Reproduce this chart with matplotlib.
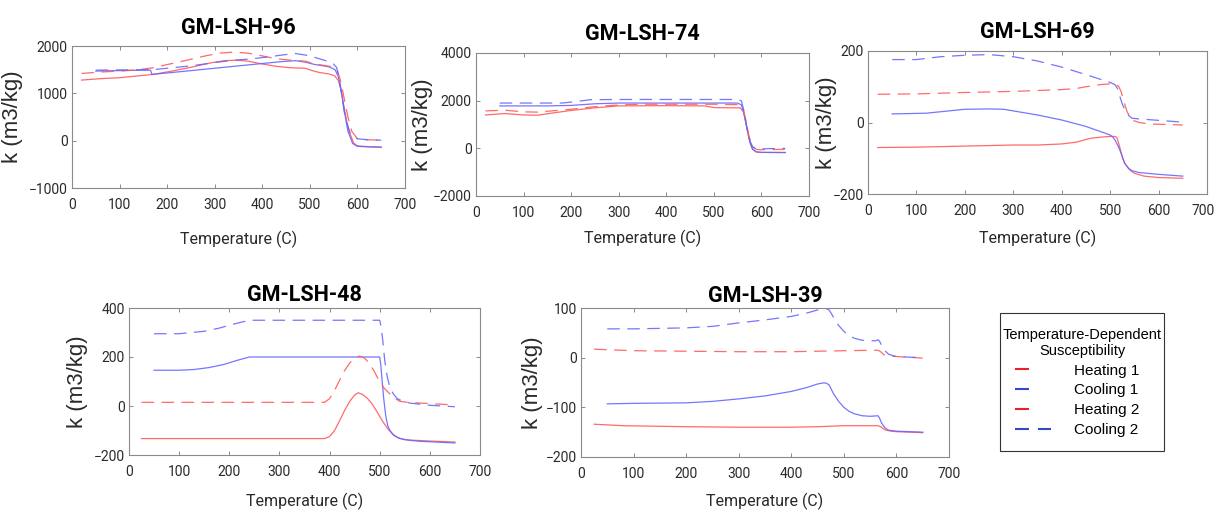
import matplotlib
matplotlib.use("Agg")
import matplotlib.pyplot as plt
from matplotlib.lines import Line2D
from matplotlib.transforms import ScaledTranslation

NARROW = ["Roboto", "DejaVu Sans"]
REGULAR = ["Liberation Sans", "DejaVu Sans"]

RED = "#ff5a5a"
BLUE = "#6666ff"

# GM-LSH-96
T96_H1 = [20, 60, 100, 140, 170, 210, 250, 290, 320, 345, 370, 400, 430, 460, 490, 505, 520, 540, 552, 560, 566, 572, 578, 585, 592, 600, 620, 650]
K96_H1 = [1280, 1310, 1330, 1370, 1400, 1470, 1550, 1640, 1690, 1700, 1680, 1620, 1570, 1540, 1530, 1480, 1440, 1410, 1370, 1270, 1050, 700, 380, 130, -50, -110, -125, -135]
T96_C1 = [50, 100, 165, 168, 200, 250, 300, 350, 400, 440, 470, 490, 510, 540, 553, 560, 566, 572, 580, 590, 600, 620, 650]
K96_C1 = [1470, 1480, 1490, 1400, 1430, 1480, 1530, 1580, 1630, 1670, 1690, 1660, 1610, 1560, 1500, 1350, 1050, 650, 200, -60, -120, -130, -140]
T96_H2 = [20, 60, 100, 140, 170, 210, 250, 280, 310, 340, 370, 400, 430, 460, 490, 510, 530, 548, 558, 565, 572, 580, 588, 600, 620, 650]
K96_H2 = [1420, 1450, 1470, 1500, 1540, 1630, 1720, 1790, 1850, 1870, 1850, 1790, 1730, 1700, 1680, 1620, 1590, 1560, 1480, 1250, 900, 500, 200, 40, 20, 10]
T96_C2 = [50, 100, 165, 170, 210, 250, 300, 340, 380, 420, 450, 470, 490, 510, 530, 548, 556, 562, 568, 575, 585, 600, 620, 650]
K96_C2 = [1490, 1495, 1500, 1500, 1540, 1580, 1650, 1700, 1730, 1780, 1820, 1840, 1810, 1760, 1700, 1640, 1550, 1300, 900, 450, 150, 40, 20, 10]

# GM-LSH-74
T74_H1 = [20, 60, 100, 130, 160, 200, 250, 300, 400, 480, 500, 530, 555, 562, 568, 574, 580, 588, 600, 650]
K74_H1 = [1400, 1460, 1400, 1390, 1480, 1590, 1700, 1780, 1790, 1780, 1710, 1700, 1700, 1550, 1000, 400, 0, -150, -170, -170]
T74_C1 = [50, 150, 200, 250, 300, 400, 550, 558, 564, 570, 576, 582, 590, 600, 650]
K74_C1 = [1780, 1780, 1800, 1870, 1900, 1900, 1900, 1820, 1400, 800, 250, -50, -150, -170, -180]
T74_H2 = [20, 60, 100, 130, 200, 250, 300, 350, 500, 555, 562, 568, 574, 580, 590, 600, 650]
K74_H2 = [1570, 1600, 1530, 1520, 1640, 1750, 1820, 1850, 1850, 1830, 1650, 1100, 500, 100, -50, -60, -40]
T74_C2 = [50, 180, 210, 240, 300, 400, 550, 558, 564, 570, 576, 582, 590, 600, 650]
K74_C2 = [1900, 1900, 1960, 2040, 2050, 2050, 2050, 1990, 1500, 800, 300, 50, -30, -20, 0]

# GM-LSH-69
T69_H1 = [20, 100, 200, 300, 350, 400, 430, 460, 480, 500, 510, 514, 518, 522, 526, 530, 540, 550, 570, 600, 650]
K69_H1 = [-70, -69, -66, -63, -63, -60, -55, -44, -41, -39, -39, -42, -60, -80, -100, -114, -132, -142, -150, -154, -156]
T69_C1 = [50, 120, 200, 250, 280, 350, 400, 450, 500, 505, 510, 515, 520, 525, 530, 538, 545, 560, 600, 650]
K69_C1 = [24, 26, 37, 38, 37, 21, 7, -11, -35, -40, -49, -62, -77, -95, -114, -128, -135, -140, -145, -150]
T69_H2 = [20, 100, 200, 300, 400, 430, 450, 480, 500, 513, 518, 523, 528, 535, 545, 560, 580, 650]
K69_H2 = [79, 80, 84, 87, 92, 95, 100, 106, 108, 106, 100, 85, 60, 30, 7, 0, -4, -7]
T69_C2 = [50, 100, 150, 200, 250, 300, 350, 400, 450, 500, 510, 515, 520, 525, 530, 538, 545, 560, 600, 650]
K69_C2 = [176, 176, 184, 188, 190, 184, 172, 155, 134, 112, 106, 95, 73, 52, 36, 20, 12, 10, 6, 1]

# GM-LSH-48
T48_H1 = [25, 100, 200, 300, 390, 400, 410, 420, 430, 440, 450, 457, 465, 475, 485, 495, 505, 515, 525, 535, 550, 600, 650]
K48_H1 = [-133, -133, -133, -133, -133, -125, -100, -60, -18, 18, 45, 54, 48, 32, 8, -25, -60, -90, -113, -128, -138, -143, -147]
T48_C1 = [50, 100, 130, 160, 190, 215, 240, 300, 400, 500, 502, 505, 508, 512, 516, 520, 528, 540, 560, 580, 650]
K48_C1 = [146, 146, 149, 157, 170, 186, 200, 200, 200, 200, 170, 100, 30, -40, -80, -99, -120, -133, -140, -144, -151]
T48_H2 = [25, 100, 200, 300, 390, 400, 410, 420, 430, 440, 450, 460, 470, 480, 490, 500, 510, 520, 530, 540, 560, 600, 650]
K48_H2 = [15, 15, 15, 15, 15, 30, 64, 105, 145, 175, 195, 204, 195, 173, 138, 98, 70, 50, 32, 19, 14, 10, 4]
T48_C2 = [50, 100, 150, 180, 210, 240, 300, 400, 500, 503, 506, 510, 515, 520, 527, 535, 545, 560, 600, 650]
K48_C2 = [295, 295, 305, 318, 335, 350, 350, 350, 350, 320, 270, 186, 120, 78, 50, 30, 20, 12, 3, -3]

# GM-LSH-39
T39_H1 = [25, 80, 200, 300, 400, 450, 500, 565, 570, 575, 580, 590, 600, 650]
K39_H1 = [-134, -137, -139, -140, -140, -139, -137, -137, -139, -143, -146, -148, -149, -151]
T39_C1 = [50, 100, 200, 250, 300, 350, 400, 430, 450, 460, 466, 472, 480, 490, 500, 510, 520, 535, 550, 565, 568, 572, 578, 585, 600, 650]
K39_C1 = [-93, -92, -91, -88, -83, -77, -68, -60, -53, -51, -51, -55, -72, -88, -100, -108, -113, -117, -118, -117, -122, -132, -141, -146, -148, -150]
T39_H2 = [25, 100, 200, 300, 400, 500, 565, 570, 575, 580, 590, 620, 650]
K39_H2 = [17, 14, 13, 12, 12, 14, 15, 12, 7, 4, 3, 1, -1]
T39_C2 = [50, 100, 200, 250, 300, 350, 400, 430, 450, 460, 466, 472, 480, 490, 500, 510, 520, 535, 550, 560, 565, 568, 572, 578, 585, 600, 650]
K39_C2 = [58, 58, 60, 63, 70, 76, 83, 90, 96, 99, 99, 96, 82, 65, 53, 45, 39, 35, 34, 34, 36, 33, 24, 14, 7, 2, 0]

SAMPLES = ["GM-LSH-96", "GM-LSH-74", "GM-LSH-69", "GM-LSH-48", "GM-LSH-39"]
YTICKS = {
    "GM-LSH-96": [-1000, 0, 1000, 2000],
    "GM-LSH-74": [-2000, 0, 2000, 4000],
    "GM-LSH-69": [-200, 0, 200],
    "GM-LSH-48": [-200, 0, 200, 400],
    "GM-LSH-39": [-200, -100, 0, 100],
}
SERIES = {
    "GM-LSH-96": [(T96_H1, K96_H1), (T96_C1, K96_C1), (T96_H2, K96_H2), (T96_C2, K96_C2)],
    "GM-LSH-74": [(T74_H1, K74_H1), (T74_C1, K74_C1), (T74_H2, K74_H2), (T74_C2, K74_C2)],
    "GM-LSH-69": [(T69_H1, K69_H1), (T69_C1, K69_C1), (T69_H2, K69_H2), (T69_C2, K69_C2)],
    "GM-LSH-48": [(T48_H1, K48_H1), (T48_C1, K48_C1), (T48_H2, K48_H2), (T48_C2, K48_C2)],
    "GM-LSH-39": [(T39_H1, K39_H1), (T39_C1, K39_C1), (T39_H2, K39_H2), (T39_C2, K39_C2)],
}
STYLES = [(RED, "-"), (BLUE, "-"), (RED, (0, (10, 6))), (BLUE, (0, (10, 6)))]

# axes boxes in pixels: left, top, right, bottom  /  ylabel offset, xlabel offset, title pad
W, H = 1216, 515
BOXES = {
    "GM-LSH-96": (72, 46, 405, 188, 49, 43, 9),
    "GM-LSH-74": (476, 53, 809, 196, 43, 34, 9),
    "GM-LSH-69": (868, 51, 1207, 194, 31, 36, 9),
    "GM-LSH-48": (129, 308, 480, 455, 41, 38, 5),
    "GM-LSH-39": (581, 308, 949, 457, 38, 36, 4.5),
}

fig = plt.figure(figsize=(W / 100, H / 100), dpi=100)

for name in SAMPLES:
    l, t, r, b, yoff, xoff, tpad = BOXES[name]
    ax = fig.add_axes([l / W, 1 - b / H, (r - l) / W, (b - t) / H])
    for (tt, kk), (c, ls) in zip(SERIES[name], STYLES):
        ax.plot(tt, kk, color=c, linestyle=ls, lw=0.9, alpha=0.9)
    yt = YTICKS[name]
    ax.set_xlim(0, 700)
    ax.set_ylim(yt[0], yt[-1])
    ax.set_xticks(range(0, 701, 100))
    ax.set_yticks(yt)
    ax.tick_params(direction="in", top=True, right=True, length=3, width=0.6,
                   color="#777777", labelcolor="#2a2a2a", labelsize=10)
    ax.tick_params(axis="x", pad=7)
    ax.tick_params(axis="y", pad=3)
    for lab in ax.get_xticklabels() + ax.get_yticklabels():
        lab.set_family(NARROW)
    if r > 1200:
        # last label sits on the figure edge; nudge it inside
        last = ax.get_xticklabels()[-1]
        last.set_transform(last.get_transform() + ScaledTranslation(-4 / 100, 0, fig.dpi_scale_trans))
    for sp in ax.spines.values():
        sp.set_color("#8a8a8a")
        sp.set_linewidth(0.8)
    ax.set_title(name, family=NARROW, fontweight="bold", fontsize=15.5, pad=tpad, color="black")
    ax.set_xlabel("Temperature (C)", family=NARROW, fontsize=11.5, color="#2a2a2a")
    ax.set_ylabel("k (m3/kg)", family=REGULAR, fontsize=16, color="#2a2a2a")
    ax.xaxis.set_label_coords(0.5, -xoff / (b - t))
    ax.yaxis.set_label_coords(-yoff / (r - l), 0.5)

handles = [
    Line2D([], [], color="#e8202a", lw=1.5, linestyle=(0, (6.7, 40))),
    Line2D([], [], color="#3848c0", lw=1.5, linestyle=(0, (6.7, 40))),
    Line2D([], [], color="#e8202a", lw=1.5, linestyle=(0, (6.7, 40))),
    Line2D([], [], color="#3848c0", lw=1.5, linestyle=(0, (6.7, 4.3))),
]
labels = ["Heating 1", "Cooling 1", "Heating 2", "Cooling 2"]
leg = fig.legend(handles, labels, loc="upper left",
                 bbox_to_anchor=(1000 / W, 1 - 313 / H, 164 / W, 0.0), mode="expand",
                 title="Temperature-Dependent\nSusceptibility",
                 prop={"family": REGULAR, "size": 11},
                 title_fontproperties={"family": REGULAR, "size": 10.5},
                 fancybox=False, edgecolor="#333333", framealpha=1,
                 handlelength=2.4, handletextpad=1.5, labelspacing=0.38,
                 borderpad=0.95, borderaxespad=0)
leg.get_frame().set_linewidth(0.8)
leg.get_title().set_multialignment("center")

fig.savefig("out.png", dpi=100)
